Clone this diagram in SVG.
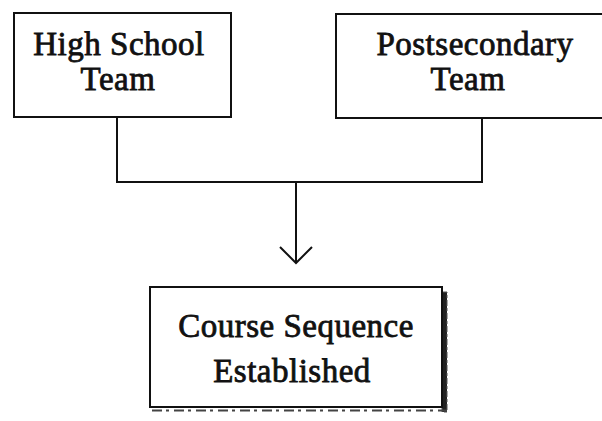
<svg xmlns="http://www.w3.org/2000/svg" width="602" height="421" viewBox="0 0 602 421">
  <style>
    .box { fill: #fff; stroke: #111; stroke-width: 2; }
    .label { font-family: "Liberation Serif", "Times New Roman", serif; font-size: 33px; letter-spacing: 0.5px; fill: #111; stroke: #111; stroke-width: 0.8; text-anchor: middle; }
    .wire { fill: none; stroke: #111; stroke-width: 2; }
  </style>
  <rect width="602" height="421" fill="#fff"/>

  <g id="high-school-team">
    <rect class="box" x="14" y="13" width="217" height="104"/>
    <text class="label" x="119" y="55">High School</text>
    <text class="label" x="118" y="90">Team</text>
  </g>

  <g id="postsecondary-team">
    <rect class="box" x="336" y="14" width="280" height="104"/>
    <text class="label" x="475" y="55">Postsecondary</text>
    <text class="label" x="468" y="90">Team</text>
  </g>

  <g id="course-sequence">
    <!-- dark dotted drop shadow on the right and bottom -->
    <rect x="442" y="292" width="5" height="120" fill="#222" stroke="#555" stroke-width="1" stroke-dasharray="6 2 3 2"/>
    <path d="M152,410.5 H447" stroke="#444" stroke-width="2" stroke-dasharray="10 4 3 5"/>
    <rect class="box" x="150" y="287" width="292" height="120"/>
    <text class="label" x="296" y="337">Course Sequence</text>
    <text class="label" x="292" y="382">Established</text>
  </g>

  <g id="connectors">
    <path class="wire" d="M117,117 V182 H482 V118"/>
    <path class="wire" d="M296,182 V262"/>
    <!-- open vee arrowhead -->
    <path class="wire" d="M280,247 L296,263 L312,247"/>
  </g>
</svg>
